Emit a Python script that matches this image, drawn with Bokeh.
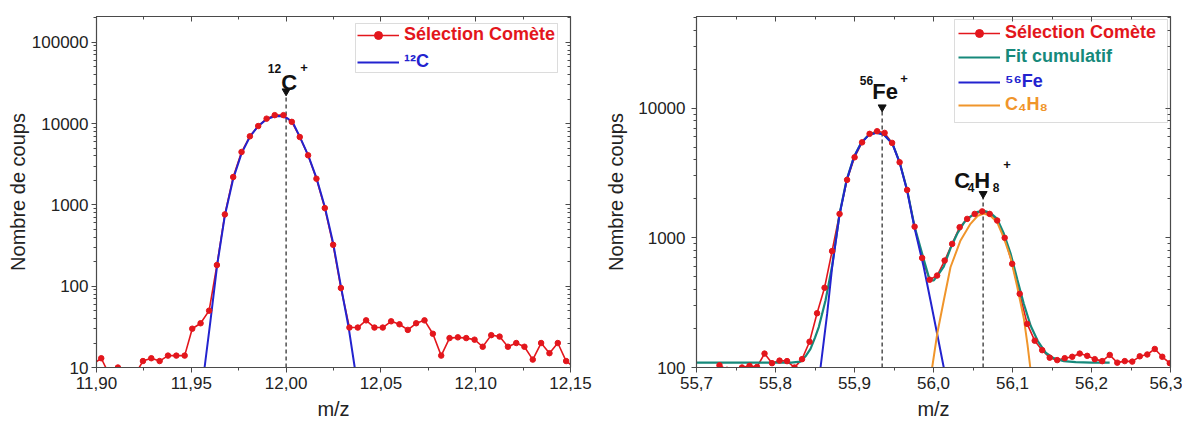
import math
from bokeh.plotting import figure
from bokeh.layouts import row
from bokeh.models import (ColumnDataSource, Legend, LegendItem, LinearAxis, LogAxis,
                          FixedTicker, CustomJSTickFormatter,
                          Range1d, Label, BoxAnnotation)
from bokeh.embed import file_html
from bokeh.resources import INLINE

# ---------------- data : left panel (12C) ----------------
c_mz = [11.8981, 11.9025, 11.9069, 11.9113, 11.9157, 11.9201, 11.9245, 11.9289, 11.9333,
        11.9377, 11.9421, 11.9465, 11.9505, 11.9549, 11.9594, 11.9635, 11.9677, 11.9721,
        11.9765, 11.9809, 11.9853, 11.9897, 11.9940, 11.9986, 12.0030, 12.0072, 12.0116,
        12.0160, 12.0204, 12.0248, 12.0289, 12.0334, 12.0378, 12.0422, 12.0466, 12.0510,
        12.0554, 12.0598, 12.0642, 12.0686, 12.0730, 12.0774, 12.0818, 12.0862, 12.0906,
        12.0950, 12.0994, 12.1037, 12.1082, 12.1126, 12.1170, 12.1214, 12.1257, 12.1301,
        12.1345, 12.1389, 12.1433, 12.1477, 12.1521]
c_counts = [11, 13, 8, 10, 8, 8, 12, 13, 12,
            14, 14, 14, 30, 35, 50, 182, 764, 2200,
            4470, 6970, 9330, 11500, 12700, 12700, 10500, 6840, 4070,
            2100, 914, 323, 95, 31, 31, 38, 31, 31,
            37, 34, 29, 35, 38, 26, 14, 23, 23.5,
            23, 22, 18, 25, 24, 18, 20, 18, 12.5,
            20, 15, 20, 12, 10]
c_fit_mz = [11.9570, 11.9600, 11.9637, 11.9677, 11.9721, 11.9765, 11.9809, 11.9853, 11.9897,
            11.9940, 11.9975, 12.0010, 12.0040, 12.0072, 12.0116, 12.0160, 12.0204, 12.0248,
            12.0289, 12.0330, 12.0362]
c_fit_counts = [10, 36, 185, 740, 2100, 4300, 6900, 9300, 11300,
                12300, 12400, 11500, 9800, 6900, 4100, 2150, 950, 340,
                100, 31, 10]
c_peak_mz = [12.00]
c_peak_top = [25000]
c_x_range = (11.90, 12.15)
c_y_range = (10, 207500)
c_x_ticks = [11.90, 11.95, 12.00, 12.05, 12.10, 12.15]
c_y_ticks = [10, 100, 1000, 10000, 100000]

# ---------------- data : right panel (56Fe / C4H8) ----------------
fe_mz = [55.7196, 55.7291, 55.7386, 55.7481, 55.7576, 55.7671, 55.7766, 55.7861, 55.7956,
         55.8051, 55.8146, 55.8241, 55.8336, 55.8431, 55.8526, 55.8621, 55.8716, 55.8811,
         55.8906, 55.9001, 55.9096, 55.9191, 55.9286, 55.9381, 55.9476, 55.9571, 55.9666,
         55.9761, 55.9856, 55.9951, 56.0046, 56.0141, 56.0236, 56.0331, 56.0426, 56.0521,
         56.0616, 56.0711, 56.0806, 56.0901, 56.0996, 56.1091, 56.1186, 56.1281, 56.1376,
         56.1471, 56.1566, 56.1661, 56.1756, 56.1851, 56.1946, 56.2041, 56.2136, 56.2231,
         56.2326, 56.2421, 56.2516, 56.2611, 56.2706, 56.2801, 56.2896, 56.2991]
fe_counts = [92, 104, 96, 94, 100, 103, 101, 128, 108,
             113, 112, 100, 116, 158, 262, 412, 790, 1530,
             2800, 4180, 5450, 6340, 6640, 6450, 5400, 3830, 2340,
             1220, 700, 475, 512, 668, 898, 1208, 1400, 1530,
             1600, 1530, 1360, 1000, 630, 370, 217, 161, 136,
             119, 114, 118, 121, 128, 123, 116, 112, 125,
             109, 112, 111, 122, 126, 139, 121, 108]
cum_mz = [55.700, 55.760, 55.820, 55.8316, 55.8380, 55.8443, 55.8500, 55.8548, 55.8633,
          55.8717, 55.8810, 55.8899, 55.8992, 55.9085, 55.9181, 55.9278, 55.9371, 55.9481,
          55.9574, 55.9667, 55.9759, 55.9877, 55.9940, 55.9983, 56.0004, 56.0060, 56.0130,
          56.0215, 56.0300, 56.0390, 56.0468, 56.0550, 56.0637, 56.0720, 56.0806, 56.0890,
          56.0975, 56.1060, 56.1143, 56.1230, 56.1320, 56.1420, 56.1520, 56.1650, 56.1800,
          56.2000, 56.2230]
cum_counts = [109, 109, 109, 111, 122, 139, 170, 205, 329,
              610, 1520, 2780, 4200, 5420, 6250, 6480, 6280, 5320,
              3780, 2330, 1230, 680, 500, 469, 470, 520, 600,
              830, 1075, 1320, 1460, 1580, 1620, 1560, 1400, 1080,
              760, 480, 310, 210, 160, 130, 118, 112, 110,
              109, 109]
fe_fit_mz = [55.8570, 55.8612, 55.8654, 55.8717, 55.8810, 55.8899, 55.8992, 55.9085, 55.9181,
             55.9278, 55.9371, 55.9481, 55.9574, 55.9667, 55.9759, 55.9877, 55.9962, 56.0046,
             56.0130]
fe_fit_counts = [100, 161, 260, 593, 1500, 2750, 4180, 5400, 6200,
                 6450, 6250, 5300, 3750, 2300, 1200, 593, 329, 182,
                 100]
c4h8_fit_mz = [55.9983, 56.0047, 56.0130, 56.0215, 56.0342, 56.0468, 56.0560, 56.0637, 56.0720,
               56.0806, 56.0890, 56.0975, 56.1060, 56.1143, 56.1190, 56.1225]
c4h8_fit_counts = [100, 182, 329, 593, 955, 1282, 1480, 1540, 1480,
                   1318, 1000, 707, 420, 240, 150, 100]
fe_peak_mz = [55.935, 56.0628]
fe_peak_top = [10170, 2183]
fe_x_range = (55.7, 56.3)
fe_y_range = (100, 50950)
fe_x_ticks = [55.7, 55.8, 55.9, 56.0, 56.1, 56.2, 56.3]
fe_y_ticks = [100, 1000, 10000]

# ---------------- style ----------------
FONT = "Liberation Sans"
RED = "#E3161C"
BLUE = "#2323CF"
TEAL = "#16897B"
ORANGE = "#F0952B"
AXIS = "#4a4a4a"
TXT = "#222222"
FRAME_W, FRAME_H = 474, 351


def minor_log(major):
    lo = int(round(math.log10(major[0])))
    return [k * 10 ** e for e in range(lo, lo + len(major) + 1) for k in range(2, 10)]


def minor_lin(major):
    return [(a + b) / 2 for a, b in zip(major[:-1], major[1:])]


def style_axis(ax, tick_out=True):
    ax.axis_line_color = AXIS
    ax.axis_line_width = 1.2
    ax.major_tick_line_color = AXIS
    ax.minor_tick_line_color = AXIS
    if tick_out:
        ax.major_tick_in, ax.major_tick_out = 0, 5
        ax.minor_tick_in, ax.minor_tick_out = 0, 3
    else:
        ax.major_tick_in, ax.major_tick_out = 5, 0
        ax.minor_tick_in, ax.minor_tick_out = 3, 0
    ax.major_label_text_font = FONT
    ax.major_label_text_font_size = "17px"
    ax.major_label_text_color = TXT
    ax.axis_label_text_font = FONT
    ax.axis_label_text_font_size = "20px"
    ax.axis_label_text_font_style = "normal"
    ax.axis_label_text_color = TXT


def make_fig(width, xr, yr, min_left, min_right, x_major, digits, y_major,
             ytick_standoff, ylab_standoff):
    p = figure(width=width, height=426, x_range=Range1d(*xr), y_range=Range1d(*yr),
               y_axis_type="log", output_backend="svg", toolbar_location=None,
               min_border_left=min_left, min_border_right=min_right,
               min_border_top=16, min_border_bottom=59)
    p.xgrid.visible = False
    p.ygrid.visible = False
    p.outline_line_color = AXIS
    p.background_fill_color = "white"
    p.border_fill_color = "white"

    xt = FixedTicker(ticks=x_major, minor_ticks=minor_lin(x_major))
    yt = FixedTicker(ticks=y_major, minor_ticks=minor_log(y_major))
    xa = p.xaxis[0]
    xa.ticker = xt
    xa.formatter = CustomJSTickFormatter(code="return tick.toFixed(%d).replace('.', ',');" % digits)
    style_axis(xa)
    xa.major_label_standoff = 4
    xa.axis_label = "m/z"
    xa.axis_label_standoff = 6
    ya = p.yaxis[0]
    ya.ticker = yt
    ya.formatter = CustomJSTickFormatter(code="return tick.toFixed(0);")
    style_axis(ya)
    ya.major_label_standoff = ytick_standoff
    ya.axis_label = "Nombre de coups"
    ya.axis_label_standoff = ylab_standoff

    empty = CustomJSTickFormatter(code="return '';")
    top = LinearAxis(ticker=xt, formatter=empty)
    style_axis(top, tick_out=False)
    top.major_label_standoff = 0
    top.major_label_text_font_size = "0px"
    p.add_layout(top, "above")
    right = LogAxis(ticker=yt, formatter=empty)
    style_axis(right, tick_out=False)
    right.major_label_standoff = 0
    right.major_label_text_font_size = "0px"
    p.add_layout(right, "right")
    return p


def fx(rel, xr):
    return xr[0] + rel / FRAME_W * (xr[1] - xr[0])


def fy(rel_top, yr):
    lo, hi = math.log10(yr[0]), math.log10(yr[1])
    return 10 ** (hi - rel_top / FRAME_H * (hi - lo))


def add_item_legend(p, label, renderers, color, vx, vy):
    leg = Legend(items=[LegendItem(label=label, renderers=renderers)], location=(vx, vy),
                 border_line_alpha=0, background_fill_alpha=0, padding=0, margin=0, spacing=0,
                 glyph_width=42, glyph_height=20, label_height=20, label_standoff=5,
                 label_text_font=FONT, label_text_font_size="18px", label_text_font_style="bold",
                 label_text_color=color)
    p.add_layout(leg)


def add_text(p, x, y, text, size, xo, yo, align="center"):
    p.add_layout(Label(x=x, y=y, text=text, text_font=FONT, text_font_size=size,
                       text_font_style="bold", text_color="#111111", text_align=align,
                       text_baseline="alphabetic", x_offset=xo, y_offset=yo))


def peak_markers(p, mz, top, bottom):
    p.segment(x0=mz, y0=[bottom] * len(mz), x1=mz, y1=top, line_color="#333333",
              line_width=1.3, line_dash="4 3")
    p.scatter(x=mz, y=top, marker="inverted_triangle", size=8, color="#111111")


# ---------------- left figure ----------------
p1 = make_fig(598, c_x_range, c_y_range, 96, 28, c_x_ticks, 2, c_y_ticks, 3, 0)
src1 = ColumnDataSource(dict(x=c_mz, y=c_counts))
peak_markers(p1, c_peak_mz, c_peak_top, c_y_range[0])
r1l = p1.line("x", "y", source=src1, line_color=RED, line_width=1.6)
r1f = p1.line(c_fit_mz, c_fit_counts, line_color=BLUE, line_width=2)
r1p = p1.scatter("x", "y", source=src1, size=5.5, color=RED)

add_text(p1, c_peak_mz[0], c_peak_top[0], "C", "22px", 3, 9)
add_text(p1, c_peak_mz[0], c_peak_top[0], "12", "12px", -5, 23, align="right")
add_text(p1, c_peak_mz[0], c_peak_top[0], "+", "13px", 18, 24)

p1.add_layout(BoxAnnotation(left=fx(259, c_x_range), right=fx(461, c_x_range),
                            top=fy(7, c_y_range), bottom=fy(56, c_y_range),
                            fill_alpha=0, line_color="#8a8a8a", line_width=1))
add_item_legend(p1, "Sélection Comète", [r1l, r1p], RED, 261, 322)
add_item_legend(p1, "¹²C", [r1f], BLUE, 261, 295)

# ---------------- right figure ----------------
p2 = make_fig(584, fe_x_range, fe_y_range, 98, 12, fe_x_ticks, 1, fe_y_ticks, 6, 8)
src2 = ColumnDataSource(dict(x=fe_mz, y=fe_counts))
peak_markers(p2, fe_peak_mz, fe_peak_top, fe_y_range[0])
r2l = p2.line("x", "y", source=src2, line_color=RED, line_width=1.6)
r2c = p2.line(cum_mz, cum_counts, line_color=TEAL, line_width=2.2)
r2f = p2.line(fe_fit_mz, fe_fit_counts, line_color=BLUE, line_width=2)
r2o = p2.line(c4h8_fit_mz, c4h8_fit_counts, line_color=ORANGE, line_width=2)
r2p = p2.scatter("x", "y", source=src2, size=5.5, color=RED)

add_text(p2, fe_peak_mz[0], fe_peak_top[0], "Fe", "22px", 3, 16)
add_text(p2, fe_peak_mz[0], fe_peak_top[0], "56", "12px", -9, 27, align="right")
add_text(p2, fe_peak_mz[0], fe_peak_top[0], "+", "13px", 22, 29)
add_text(p2, fe_peak_mz[1], fe_peak_top[1], "C", "22px", -21, 13)
add_text(p2, fe_peak_mz[1], fe_peak_top[1], "4", "12px", -12, 6)
add_text(p2, fe_peak_mz[1], fe_peak_top[1], "H", "22px", -1, 13)
add_text(p2, fe_peak_mz[1], fe_peak_top[1], "8", "12px", 13, 6)
add_text(p2, fe_peak_mz[1], fe_peak_top[1], "+", "13px", 24, 29)

p2.add_layout(BoxAnnotation(left=fx(258, fe_x_range), right=fx(471, fe_x_range),
                            top=fy(3, fe_y_range), bottom=fy(106, fe_y_range),
                            fill_alpha=0, line_color="#8a8a8a", line_width=1))
add_item_legend(p2, "Sélection Comète", [r2l, r2p], RED, 262, 324)
add_item_legend(p2, "Fit cumulatif", [r2c], TEAL, 262, 300)
add_item_legend(p2, "⁵⁶Fe", [r2f], BLUE, 262, 275)
add_item_legend(p2, "C₄H₈", [r2o], ORANGE, 262, 252)

layout = row(p1, p2)
open("out.html", "w").write(file_html(layout, INLINE))
